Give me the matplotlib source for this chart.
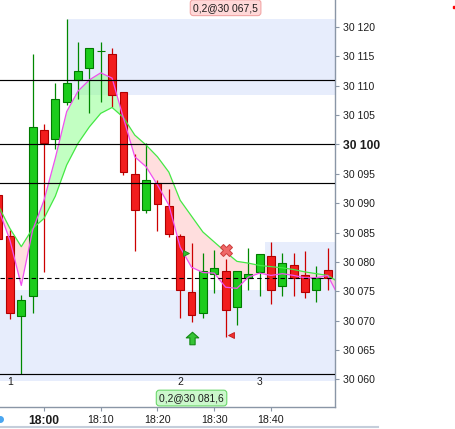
import matplotlib
matplotlib.use("Agg")
import matplotlib.pyplot as plt
from matplotlib.lines import Line2D
from matplotlib.path import Path
from matplotlib.ticker import FixedLocator, FuncFormatter
from matplotlib.transforms import blended_transform_factory

# 2 minute candles
times = ["17:52", "17:54", "17:56", "17:58", "18:00", "18:02", "18:04", "18:06",
         "18:08", "18:10", "18:12", "18:14", "18:16", "18:18", "18:20", "18:22",
         "18:24", "18:26", "18:28", "18:30", "18:32", "18:34", "18:36", "18:38",
         "18:40", "18:42", "18:44", "18:46", "18:48", "18:50"]
opens = [30091.4, 30084.4, 30070.8, 30074.2, 30102.4, 30100.9, 30107.3, 30111.0,
         30113.0, 30115.9, 30115.4, 30108.9, 30094.9, 30088.9, 30093.5, 30089.5,
         30084.4, 30074.8, 30071.3, 30077.9, 30078.4, 30072.3, 30077.3, 30078.3,
         30081.0, 30075.9, 30079.4, 30077.7, 30075.3, 30078.7]
highs = [30093.0, 30085.4, 30074.3, 30115.4, 30103.5, 30110.5, 30121.3, 30117.4,
         30116.4, 30117.4, 30116.4, 30109.0, 30098.3, 30100.3, 30093.9, 30092.4,
         30084.8, 30083.3, 30081.5, 30082.0, 30080.5, 30078.4, 30082.3, 30081.4,
         30083.4, 30081.5, 30081.5, 30081.8, 30079.3, 30082.3]
lows = [30082.0, 30070.3, 30060.9, 30071.3, 30078.3, 30099.3, 30106.8, 30107.7,
        30105.4, 30107.3, 30106.4, 30094.8, 30081.9, 30088.3, 30085.3, 30084.3,
        30070.4, 30069.8, 30070.4, 30074.7, 30067.3, 30069.2, 30075.3, 30074.2,
        30072.9, 30074.2, 30074.2, 30073.8, 30073.2, 30075.3]
closes = [30083.9, 30071.3, 30073.5, 30103.0, 30100.3, 30107.8, 30110.4, 30112.5,
          30116.4, 30115.9, 30108.4, 30095.3, 30088.9, 30093.9, 30089.8, 30084.8,
          30075.3, 30070.9, 30078.4, 30078.9, 30071.9, 30078.4, 30077.9, 30081.4,
          30075.3, 30079.9, 30077.2, 30074.8, 30077.3, 30077.2]

# moving averages (one extra point past the right edge)
ma_times = times + ["18:52"]
ma_fast = [30089.0, 30083.7, 30076.0, 30085.4, 30090.5, 30097.7, 30105.6, 30109.1,
           30111.0, 30112.2, 30111.3, 30104.5, 30097.9, 30096.2, 30093.1, 30089.7,
           30082.5, 30079.1, 30078.2, 30078.1, 30075.7, 30075.5, 30077.4, 30078.1,
           30077.7, 30078.0, 30077.7, 30077.3, 30077.3, 30077.7, 30074.0]
ma_slow = [30089.5, 30085.7, 30082.6, 30085.7, 30087.4, 30091.2, 30096.5, 30100.2,
           30103.0, 30105.3, 30106.3, 30104.6, 30101.6, 30099.9, 30097.9, 30095.3,
           30090.5, 30087.8, 30085.1, 30083.4, 30081.7, 30080.1, 30079.8, 30079.4,
           30079.2, 30079.0, 30078.7, 30078.3, 30078.0, 30077.7, 30076.5]

# horizontal levels
solid_levels = [30110.9, 30100.0, 30093.5, 30060.9]
dashed_level = 30077.3

# zones: (start time, end time, low, high)
zones = [("18:04", "18:54", 30108.5, 30121.4),
         ("17:40", "18:54", 30059.8, 30075.3),
         ("18:39", "18:54", 30075.3, 30083.4)]

# executions / signals
buy_fill = ("18:25", 30081.6)
sell_fill = ("18:33", 30067.5)
buy_arrow = ("18:26", 30067.0)
exit_cross = ("18:32", 30082.1)
buy_tag = ("18:26", "0,2@30 081,6")
sell_tag = ("18:32", "0,2@30 067,5")
wave_labels = [("17:54", "1"), ("18:24", "2"), ("18:38", "3")]

y_ticks = list(range(30060, 30121, 5))
x_ticks = [0, 10, 20, 30, 40]

FONT = "Liberation Sans"
TEXT_COLOR = "#1c1c1c"
AXIS_COLOR = "#8a96a6"


def to_min(s):
    # minutes relative to 18:00
    return int(s[:2]) * 60 + int(s[3:]) - 18 * 60


def fmt_time(v, pos=None):
    h, m = divmod(18 * 60 + int(round(v)), 60)
    return f"{h}:{m:02d}"


def fmt_price(v, pos=None):
    return f"{int(round(v)):,}".replace(",", " ")


t = [to_min(s) for s in times]
t_ma = [to_min(s) for s in ma_times]

fig = plt.figure(figsize=(4.55, 4.29), dpi=100)
ax = fig.add_axes([0, 22 / 429, 335 / 455, 407 / 429])

# zones
for start, end, lo, hi in zones:
    ax.fill_between([to_min(start), to_min(end)], lo, hi, color="#e7edfc", lw=0, zorder=0)

# band between the two averages
fast_up = [f >= s for f, s in zip(ma_fast, ma_slow)]
fast_dn = [f < s for f, s in zip(ma_fast, ma_slow)]
ax.fill_between(t_ma, ma_fast, ma_slow, where=fast_up, interpolate=True,
                color="#90ff90", alpha=0.55, lw=0, zorder=1)
ax.fill_between(t_ma, ma_fast, ma_slow, where=fast_dn, interpolate=True,
                color="#ffc4c4", alpha=0.55, lw=0, zorder=1)

# candles
up = [c >= o for o, c in zip(opens, closes)]
wick_col = ["#008800" if u else "#cc0000" for u in up]
body_col = ["#1ccc1c" if u else "#f21d1d" for u in up]
edge_col = ["#007a00" if u else "#b00000" for u in up]
ax.vlines(t, lows, highs, colors=wick_col, lw=0.9, zorder=3)
ax.bar(t, [c - o for o, c in zip(opens, closes)], bottom=opens, width=1.38,
       color=body_col, edgecolor=edge_col, lw=0.8, zorder=4)

# averages
ax.plot(t_ma, ma_slow, color="#44e844", lw=0.9, zorder=5)
ax.plot(t_ma, ma_fast, color="#f050f0", lw=0.9, zorder=5)

# levels
for lvl in solid_levels:
    ax.axhline(lvl, color="black", lw=0.85, zorder=6)
ax.axhline(dashed_level, color="black", lw=0.8, ls=(0, (4, 3)), zorder=6)

# markers
arrow = Path([(0, 1), (1, 0.1), (0.42, 0.1), (0.42, -1), (-0.42, -1), (-0.42, 0.1),
              (-1, 0.1), (0, 1)],
             [Path.MOVETO] + [Path.LINETO] * 6 + [Path.CLOSEPOLY])
ax.plot(to_min(buy_arrow[0]), buy_arrow[1], marker=arrow, ms=9, mfc="#36c436",
        mec="#138a13", mew=0.8, zorder=7)
ax.plot(to_min(buy_fill[0]), buy_fill[1], marker=">", ms=4.5, mfc="#30c030",
        mec="#178a17", mew=0.6, zorder=7)
ax.plot(to_min(sell_fill[0]), sell_fill[1], marker="<", ms=4.5, mfc="#f03030",
        mec="#c01818", mew=0.6, zorder=7)
ax.plot(to_min(exit_cross[0]), exit_cross[1], marker="X", ms=8, mfc="#f06868",
        mec="#cc3c3c", mew=0.7, zorder=7)

for when, label in wave_labels:
    ax.text(to_min(when), 30059.6, label, ha="center", va="center", fontsize=7.5,
            family=FONT, color=TEXT_COLOR, zorder=8)

# position tags
trans = blended_transform_factory(ax.transData, ax.transAxes)
ax.text(to_min(sell_tag[0]), 0.981, sell_tag[1], transform=trans, ha="center", va="center",
        fontsize=7.4, family=FONT, color=TEXT_COLOR, zorder=9,
        bbox=dict(boxstyle="round,pad=0.28,rounding_size=0.3", fc="#ffd8d8", ec="#f2a6a6", lw=0.8))
ax.text(to_min(buy_tag[0]), 0.022, buy_tag[1], transform=trans, ha="center", va="center",
        fontsize=7.4, family=FONT, color=TEXT_COLOR, zorder=9,
        bbox=dict(boxstyle="round,pad=0.28,rounding_size=0.3", fc="#ccf8cc", ec="#6cd86c", lw=0.8))

# axes
ax.set_xlim(-7.75, 51.28)
ax.set_ylim(30055.3, 30124.6)
for side in ["top", "left"]:
    ax.spines[side].set_visible(False)
for side in ["right", "bottom"]:
    ax.spines[side].set_color(AXIS_COLOR)
    ax.spines[side].set_linewidth(1.0)

ax.yaxis.tick_right()
ax.yaxis.set_major_locator(FixedLocator(y_ticks))
ax.yaxis.set_major_formatter(FuncFormatter(fmt_price))
ax.xaxis.set_major_locator(FixedLocator(x_ticks))
ax.xaxis.set_major_formatter(FuncFormatter(fmt_time))
ax.tick_params(axis="y", length=3, width=0.8, color=AXIS_COLOR, pad=2.5,
               labelsize=7.6, labelcolor=TEXT_COLOR)
ax.tick_params(axis="x", length=3, width=0.8, color=AXIS_COLOR, pad=2.5,
               labelsize=7.7, labelcolor=TEXT_COLOR)

fig.canvas.draw()
for lab in ax.get_yticklabels() + ax.get_xticklabels():
    lab.set_family(FONT)
    if lab.get_text() in ("30 100", "18:00"):
        lab.set_fontweight("bold")
        lab.set_fontsize(8.7)

# window decorations outside the plot
fig.add_artist(Line2D([0, 378 / 455], [2 / 429, 2 / 429], color="#c4cedb", lw=1.5,
                      transform=fig.transFigure))
fig.add_artist(Line2D([0.0], [1 - 419 / 429], marker="o", ms=4, color="#4aa6f0",
                      transform=fig.transFigure))
fig.add_artist(Line2D([454 / 455], [1 - 7 / 429], marker="s", ms=1.8, color="red",
                      transform=fig.transFigure))

fig.savefig("out.png", dpi=100)
